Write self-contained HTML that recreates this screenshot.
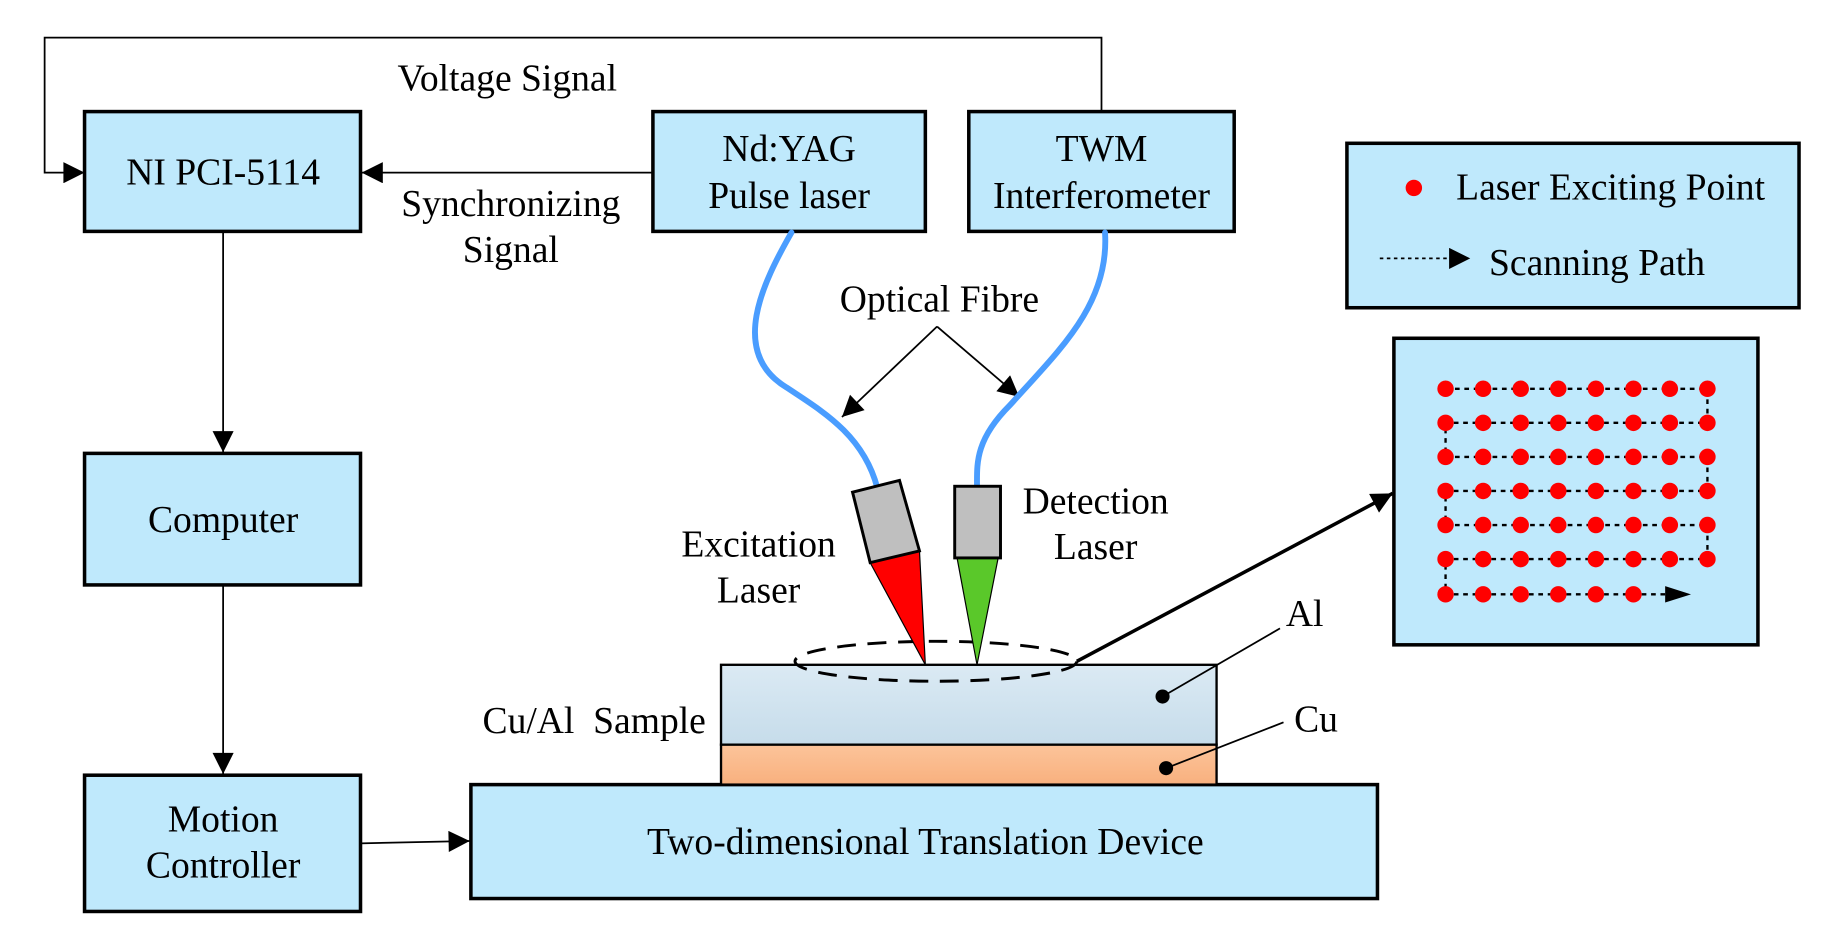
<!DOCTYPE html>
<html><head><meta charset="utf-8"><style>
html,body{margin:0;padding:0;background:#fff;}
svg{display:block}
text{font-family:"Liberation Serif",serif;font-size:32px;fill:#000;}
</style></head><body>
<svg width="1846" height="942" viewBox="0 0 1572 802" preserveAspectRatio="none" xmlns="http://www.w3.org/2000/svg">
<defs>
<marker id="ahb" viewBox="0 0 10 10" refX="10" refY="5" markerWidth="22" markerHeight="18" markerUnits="userSpaceOnUse" orient="auto"><path d="M0,0L10,5L0,10z"/></marker>
<linearGradient id="al" x1="0" y1="0" x2="0" y2="1"><stop offset="0" stop-color="#dbeaf4"/><stop offset="1" stop-color="#c6dcea"/></linearGradient>
<linearGradient id="cu" x1="0" y1="0" x2="0" y2="1"><stop offset="0" stop-color="#fcc49a"/><stop offset="1" stop-color="#f8b07e"/></linearGradient>
<g id="row"><circle cx="1231" cy="0" r="7"/><circle cx="1263" cy="0" r="7"/><circle cx="1295" cy="0" r="7"/><circle cx="1327" cy="0" r="7"/><circle cx="1359" cy="0" r="7"/><circle cx="1391" cy="0" r="7"/><circle cx="1422" cy="0" r="7"/><circle cx="1454" cy="0" r="7"/></g>
</defs>
<g fill="#bfe9fc" stroke="#000" stroke-width="3">
<rect x="72" y="95" width="235" height="102"/>
<rect x="556" y="95" width="232" height="102"/>
<rect x="825" y="95" width="226" height="102"/>
<rect x="1147" y="122" width="385" height="140"/>
<rect x="1187" y="288" width="310" height="261"/>
<rect x="72" y="386" width="235" height="112"/>
<rect x="72" y="660" width="235" height="116"/>
<rect x="401" y="668" width="772" height="97"/>
</g>
<rect x="614" y="566" width="422" height="68" fill="url(#al)" stroke="#000" stroke-width="2"/>
<rect x="614" y="634" width="422" height="34" fill="url(#cu)" stroke="#000" stroke-width="2"/>
<g stroke="#000" stroke-width="1.5" fill="none">
<path d="M938,95V32H38V147H72" marker-end="url(#ahb)"/>
<path d="M556,147H308" marker-end="url(#ahb)"/>
<path d="M190,197V385" marker-end="url(#ahb)"/>
<path d="M190,498V659" marker-end="url(#ahb)"/>
<path d="M307,718L400,716" marker-end="url(#ahb)"/>
<path d="M798,278L717,355" marker-end="url(#ahb)"/>
<path d="M798,278L868,338" marker-end="url(#ahb)"/>
<path d="M990,593L1090,535"/>
<path d="M993,654L1093,615"/>
<path d="M1175,220H1252" stroke-dasharray="3,3" marker-end="url(#ahb)"/>
</g>
<path d="M917,563L1186,420" stroke="#000" stroke-width="3" fill="none" marker-end="url(#ahb)"/>
<ellipse cx="797" cy="563" rx="120" ry="17" fill="none" stroke="#000" stroke-width="2.5" stroke-dasharray="16,10"/>
<circle cx="990" cy="593" r="6"/><circle cx="993" cy="654" r="6"/>
<g stroke="#4a9dff" stroke-width="5" fill="none" stroke-linecap="round">
<path d="M674,198C650,240 620,300 670,330C700,350 735,370 747,415"/>
<path d="M941,198C945,260 900,300 860,345C830,375 832,395 832,415"/>
</g>
<polygon points="741,479 783,469 788,566" fill="#ff0000" stroke="#000" stroke-width="1"/>
<polygon points="815,475 850,475 832,566" fill="#5ac82a" stroke="#000" stroke-width="1"/>
<polygon points="726,419 766,409 783,469 741,479" fill="#bfbfbf" stroke="#000" stroke-width="2.5"/>
<rect x="813" y="414" width="39" height="61" fill="#bfbfbf" stroke="#000" stroke-width="2.5"/>
<circle cx="1204" cy="160" r="7" fill="#f00"/>
<g stroke="#000" stroke-width="2" stroke-dasharray="4,4" fill="none">
<path d="M1231,331H1454V360H1231V389H1454V418H1231V447H1454V476H1231V506H1420"/>
</g>
<path d="M1418,499L1440,506L1418,513z"/>
<g fill="#f00">
<use href="#row" y="331"/><use href="#row" y="360"/><use href="#row" y="389"/><use href="#row" y="418"/><use href="#row" y="447"/><use href="#row" y="476"/>
<circle cx="1231" cy="506" r="7"/><circle cx="1263" cy="506" r="7"/><circle cx="1295" cy="506" r="7"/><circle cx="1327" cy="506" r="7"/><circle cx="1359" cy="506" r="7"/><circle cx="1391" cy="506" r="7"/>
</g>
<g text-anchor="middle">
<text x="190" y="157">NI PCI-5114</text>
<text x="432" y="77">Voltage Signal</text>
<text x="435" y="184">Synchronizing</text>
<text x="435" y="223">Signal</text>
<text x="672" y="137">Nd:YAG</text>
<text x="672" y="177">Pulse laser</text>
<text x="938" y="137">TWM</text>
<text x="938" y="177">Interferometer</text>
<text x="800" y="265">Optical Fibre</text>
<text x="646" y="474">Excitation</text>
<text x="646" y="513">Laser</text>
<text x="933" y="437">Detection</text>
<text x="933" y="476">Laser</text>
<text x="190" y="453">Computer</text>
<text x="190" y="708">Motion</text>
<text x="190" y="747">Controller</text>
<text x="788" y="727">Two-dimensional Translation Device</text>
<text x="506" y="624">Cu/Al&#160; Sample</text>
</g>
<text x="1095" y="533">Al</text>
<text x="1102" y="623">Cu</text>
<text x="1240" y="170">Laser Exciting Point</text>
<text x="1268" y="234">Scanning Path</text>
</svg>
</body></html>
